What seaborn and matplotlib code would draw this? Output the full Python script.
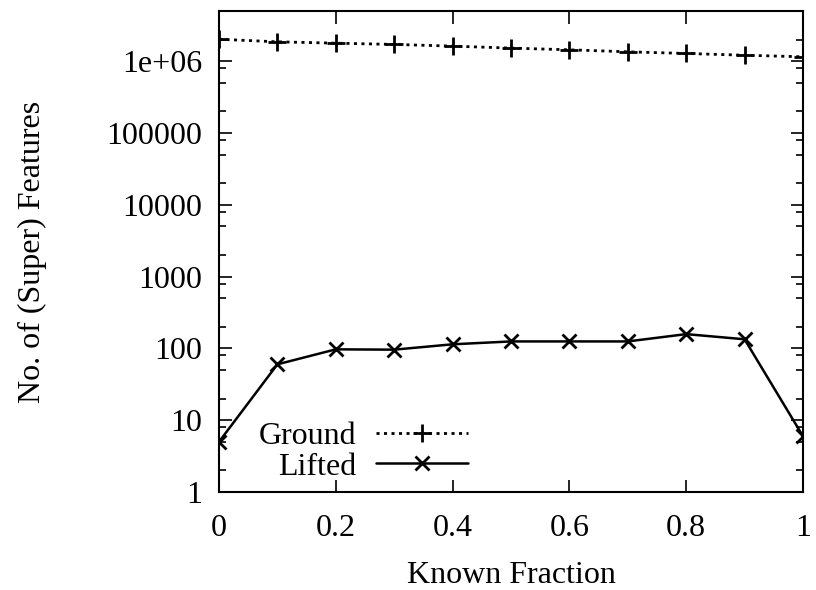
"""Ground vs lifted feature counts against known fraction (gnuplot-style)."""
import matplotlib
matplotlib.use("Agg")
import matplotlib.pyplot as plt
import matplotlib.ticker as mticker
import pandas as pd
import seaborn as sns

known_fraction = [0.0, 0.1, 0.2, 0.3, 0.4, 0.5, 0.6, 0.7, 0.8, 0.9, 1.0]
ground = [2.02e6, 1.86e6, 1.78e6, 1.71e6, 1.62e6, 1.52e6, 1.44e6, 1.35e6,
          1.28e6, 1.21e6, 1.15e6]
lifted = [5, 60, 97, 96, 114, 125, 125, 125, 158, 134, 6]

x_ticks = [0, 0.2, 0.4, 0.6, 0.8, 1.0]
x_tick_labels = ["0", "0.2", "0.4", "0.6", "0.8", "1"]
y_ticks = [1, 10, 100, 1000, 10000, 100000, 1e6]
y_tick_labels = ["1", "10", "100", "1000", "10000", "100000", "1e+06"]

sns.set_style("ticks")
plt.rcParams["font.family"] = ["Liberation Serif", "DejaVu Serif"]
plt.rcParams["font.size"] = 23
plt.rcParams["axes.linewidth"] = 1.5
for key in ["text.color", "axes.labelcolor", "xtick.color", "ytick.color",
            "axes.edgecolor"]:
    plt.rcParams[key] = "black"

df = pd.DataFrame({"x": known_fraction, "Ground": ground, "Lifted": lifted})

fig = plt.figure(figsize=(8.16, 5.9), dpi=100)
ax = fig.add_axes([0.2684, 0.1661, 0.984 - 0.2684, 0.9814 - 0.1661])

sns.lineplot(data=df, x="x", y="Ground", ax=ax, color="black", lw=2,
             linestyle=(0, (1.1, 1.6)), marker="+", markersize=13,
             markeredgewidth=2, markeredgecolor="black", label="Ground")
sns.lineplot(data=df, x="x", y="Lifted", ax=ax, color="black", lw=1.8,
             linestyle="-", marker="x", markersize=10,
             markeredgewidth=2, markeredgecolor="black", label="Lifted")

ax.set_yscale("log")
ax.set_xlim(0, 1)
ax.set_ylim(1, 5e6)

ax.set_xticks(x_ticks)
ax.set_xticklabels(x_tick_labels)
ax.set_yticks(y_ticks)
ax.set_yticklabels(y_tick_labels)
ax.yaxis.set_minor_locator(mticker.LogLocator(base=10, subs=[2, 5, 8], numticks=20))
ax.yaxis.set_minor_formatter(mticker.NullFormatter())
ax.xaxis.set_minor_locator(mticker.NullLocator())

ax.tick_params(which="both", direction="in", top=True, right=True, width=1.2)
ax.tick_params(which="major", length=9)
ax.tick_params(which="minor", length=5)
ax.tick_params(axis="x", pad=16)
ax.tick_params(axis="y", pad=12)

ax.set_xlabel("Known Fraction", labelpad=13)
ax.set_ylabel("No. of (Super) Features", labelpad=43)

ax.legend(loc="lower left", bbox_to_anchor=(0.03, -0.025), frameon=False,
          markerfirst=False, handlelength=2.9, handletextpad=0.6,
          labelspacing=0.05, borderaxespad=0.3)

fig.savefig("out.png", dpi=100)
